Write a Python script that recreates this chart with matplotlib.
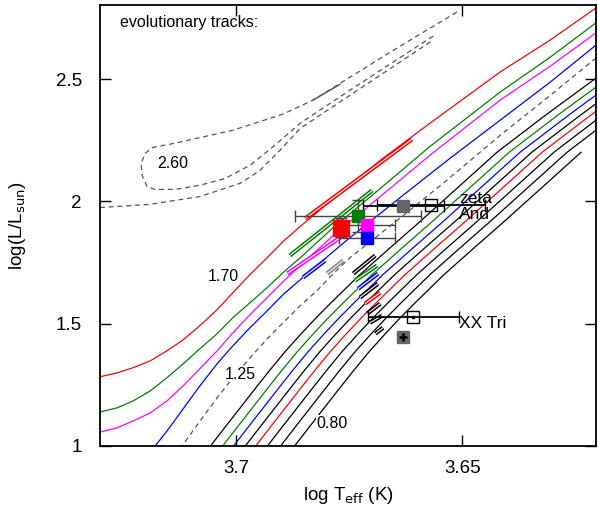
import matplotlib
matplotlib.use("Agg")
import matplotlib.pyplot as plt

plt.rcParams['font.family'] = ['Liberation Sans', 'DejaVu Sans']

# ---------------- data (log Teff, log L) ----------------
# 2.60 Msun track (dashed): RGB ascent, then descent + blue loop + AGB
t260_a_T = [3.7301, 3.7190, 3.7080, 3.6991, 3.6947, 3.6903, 3.6858, 3.6748, 3.6564]
t260_a_L = [1.975, 1.988, 2.020, 2.074, 2.127, 2.209, 2.299, 2.434, 2.660]
t260_b_T = [3.6564, 3.6748, 3.6858, 3.6914, 3.6969, 3.7024, 3.7080, 3.7135, 3.7179, 3.7197,
            3.7208, 3.7210, 3.7201, 3.7184, 3.7135, 3.7007, 3.6896, 3.6830, 3.6748, 3.6637, 3.6511]
t260_b_L = [2.676, 2.455, 2.320, 2.230, 2.148, 2.094, 2.066, 2.049, 2.049, 2.061,
            2.107, 2.156, 2.197, 2.221, 2.238, 2.291, 2.357, 2.414, 2.508, 2.635, 2.775]
t260_seg_T = [3.6830, 3.6770]
t260_seg_L = [2.414, 2.479]

# upper tracks
red170_T = [3.7301, 3.7263, 3.7228, 3.7190, 3.7153, 3.7117, 3.7080, 3.7042, 3.7007, 3.6969,
            3.6931, 3.6896, 3.6858, 3.6770, 3.6681, 3.6571, 3.6416, 3.6305, 3.6204]
red170_L = [1.283, 1.299, 1.320, 1.348, 1.389, 1.434, 1.492, 1.557, 1.627, 1.701,
            1.770, 1.836, 1.898, 2.033, 2.168, 2.320, 2.529, 2.660, 2.791]
grn160_T = [3.7301, 3.7263, 3.7228, 3.7190, 3.7153, 3.7117, 3.7080, 3.7042, 3.7007, 3.6969,
            3.6931, 3.6896, 3.6858, 3.6785, 3.6681, 3.6571, 3.6416, 3.6305, 3.6204]
grn160_L = [1.139, 1.156, 1.184, 1.225, 1.279, 1.336, 1.398, 1.459, 1.525, 1.586,
            1.648, 1.709, 1.770, 1.893, 2.053, 2.225, 2.447, 2.590, 2.730]
mag150_T = [3.7301, 3.7263, 3.7228, 3.7190, 3.7153, 3.7117, 3.7080, 3.7042, 3.7007, 3.6969,
            3.6931, 3.6896, 3.6858, 3.6785, 3.6681, 3.6571, 3.6416, 3.6305, 3.6204]
mag150_L = [1.057, 1.074, 1.102, 1.135, 1.184, 1.246, 1.316, 1.389, 1.463, 1.537,
            1.607, 1.672, 1.738, 1.861, 2.020, 2.189, 2.414, 2.553, 2.689]
blu140_T = [3.7184, 3.7153, 3.7117, 3.7080, 3.7042, 3.7007, 3.6969, 3.6931, 3.6896,
            3.6858, 3.6821, 3.6785, 3.6748, 3.6637, 3.6527, 3.6416, 3.6305, 3.6204]
blu140_L = [0.988, 1.061, 1.152, 1.246, 1.336, 1.410, 1.484, 1.553, 1.619,
            1.680, 1.738, 1.795, 1.852, 2.016, 2.176, 2.332, 2.488, 2.639]
dsh130_T = [3.7124, 3.7080, 3.7042, 3.7007, 3.6969, 3.6931, 3.6896, 3.6858, 3.6821,
            3.6785, 3.6748, 3.6644, 3.6542, 3.6416, 3.6305, 3.6204]
dsh130_L = [0.988, 1.102, 1.197, 1.279, 1.361, 1.439, 1.504, 1.574, 1.635,
            1.705, 1.770, 1.922, 2.074, 2.270, 2.434, 2.586]

# lower tracks (1.25 ... 0.80), common luminosity grid
low_L = [0.992, 1.078, 1.156, 1.234, 1.311, 1.385, 1.455, 1.520, 1.582, 1.701,
         1.811, 1.918, 2.066, 2.201, 2.352, 2.504]
low_T = [
    [3.7060, 3.7024, 3.6991, 3.6958, 3.6925, 3.6892, 3.6858, 3.6825, 3.6792, 3.6726, 3.6659, 3.6593, 3.6504, 3.6423, 3.6316, 3.6204],
    [3.7033, 3.6997, 3.6964, 3.6931, 3.6898, 3.6865, 3.6831, 3.6798, 3.6765, 3.6699, 3.6632, 3.6566, 3.6477, 3.6396, 3.6289, 3.6177],
    [3.7009, 3.6973, 3.6940, 3.6907, 3.6874, 3.6841, 3.6807, 3.6774, 3.6741, 3.6675, 3.6608, 3.6542, 3.6453, 3.6372, 3.6265, 3.6153],
    [3.6983, 3.6947, 3.6914, 3.6881, 3.6848, 3.6815, 3.6781, 3.6748, 3.6715, 3.6649, 3.6582, 3.6516, 3.6427, 3.6346, 3.6239, 3.6127],
    [3.6960, 3.6924, 3.6891, 3.6858, 3.6825, 3.6792, 3.6758, 3.6725, 3.6692, 3.6626, 3.6559, 3.6493, 3.6404, 3.6323, 3.6216, 3.6104],
    [3.6934, 3.6898, 3.6865, 3.6832, 3.6799, 3.6766, 3.6732, 3.6699, 3.6666, 3.6600, 3.6533, 3.6467, 3.6378, 3.6297, 3.6190, 3.6078],
    [3.6905, 3.6869, 3.6836, 3.6803, 3.6770, 3.6737, 3.6703, 3.6670, 3.6637, 3.6571, 3.6504, 3.6438, 3.6349, 3.6268, 3.6161, 3.6049],
    [3.6874, 3.6838, 3.6805, 3.6772, 3.6739, 3.6706, 3.6672, 3.6639, 3.6606, 3.6540, 3.6473, 3.6407, 3.6318, 3.6237],
]
low_colors = ['black', 'green', 'blue', 'black', 'red', 'black', 'black', 'black']

# He-burning clump segments: (T start, L start, T end, L end)
clump_T0 = [3.6847, 3.6881, 3.6887, 3.6852, 3.6799, 3.6741, 3.6737, 3.6730, 3.6726, 3.6715, 3.6710, 3.6704, 3.6692]
clump_L0 = [1.930, 1.779, 1.705, 1.689, 1.705, 1.705, 1.676, 1.643, 1.607, 1.582, 1.541, 1.504, 1.459]
clump_T1 = [3.6611, 3.6699, 3.6770, 3.6803, 3.6763, 3.6692, 3.6688, 3.6686, 3.6686, 3.6681, 3.6681, 3.6677, 3.6675]
clump_L1 = [2.254, 2.045, 1.852, 1.758, 1.758, 1.779, 1.738, 1.705, 1.664, 1.627, 1.582, 1.533, 1.484]
clump_colors = ['red', 'green', 'magenta', 'blue', 'gray', 'black', 'green', 'blue',
                'black', 'red', 'black', 'black', 'black']

# observed stars
zeta_T = [3.6630, 3.6569]
zeta_L = [1.980, 1.984]
zeta_xerr = [0.0089, 0.0119]
fit_T = [3.6768, 3.6730, 3.6710, 3.6710]
fit_L = [1.893, 1.939, 1.902, 1.852]
fit_xerr = [0.0, 0.0139, 0.0062, 0.0062]
fit_yerr = [0.04, 0.065, 0.0, 0.0]
fit_colors = ['red', 'green', 'magenta', 'blue']
fit_sizes = [11, 8, 8.5, 8.5]
xx_T = [3.6630, 3.6608]
xx_L = [1.447, 1.529]
xx_xerr = [0.0009, 0.0101]
xx_yerr = [0.016, 0.0]

# ---------------- figure ----------------
fig = plt.figure(figsize=(5.98, 5.13), dpi=100)
ax = fig.add_axes([100/598, 1-446/513, 496/598, 441/513])

lw = 0.9
dash = (0, (4, 3))
ax.plot(t260_a_T, t260_a_L, color='#555555', ls=dash, lw=lw)
ax.plot(t260_b_T, t260_b_L, color='#555555', ls=dash, lw=lw)
ax.plot(t260_seg_T, t260_seg_L, color='#555555', lw=1.0)
ax.plot(red170_T, red170_L, color='red', lw=lw)
ax.plot(grn160_T, grn160_L, color='green', lw=lw)
ax.plot(mag150_T, mag150_L, color='magenta', lw=lw)
ax.plot(blu140_T, blu140_L, color='blue', lw=lw)
ax.plot(dsh130_T, dsh130_L, color='#555555', ls=dash, lw=lw)
for T, c in zip(low_T, low_colors):
    ax.plot(T, low_L[:len(T)], color=c, lw=lw)

for t0, l0, t1, l1, c in zip(clump_T0, clump_L0, clump_T1, clump_L1, clump_colors):
    ax.plot([t0, t1], [l0, l1], color=c, lw=3.0, solid_capstyle='butt')
    ax.plot([t0, t1], [l0, l1], color='white', lw=0.8, solid_capstyle='butt')

# error bars
ax.errorbar(zeta_T, zeta_L, xerr=zeta_xerr, fmt='none', ecolor='black', elinewidth=1.3, capsize=4)
ax.errorbar(fit_T, fit_L, xerr=fit_xerr, yerr=fit_yerr, fmt='none', ecolor='#444444', elinewidth=1.0, capsize=4)
ax.errorbar(xx_T[1:], xx_L[1:], xerr=xx_xerr[1:], fmt='none', ecolor='black', elinewidth=1.3, capsize=4)

# markers
ax.plot(zeta_T[0], zeta_L[0], 's', ms=9, color='#666666', mec='#666666')
ax.plot(zeta_T[1], zeta_L[1], 's', ms=9, mfc='none', mec='black', mew=1.0)
for T, L, c, s in zip(fit_T, fit_L, fit_colors, fit_sizes):
    ax.plot(T, L, 's', ms=s, color=c, mec=c)
ax.plot(xx_T[1], xx_L[1], 's', ms=9, mfc='none', mec='black', mew=1.0)
ax.plot(xx_T[1], xx_L[1], 's', ms=2, color='black')
ax.plot(xx_T[0], xx_L[0], 's', ms=9, color='#666666', mec='#666666')
ax.errorbar(xx_T[:1], xx_L[:1], xerr=xx_xerr[:1], yerr=xx_yerr[:1], fmt='none',
            ecolor='black', elinewidth=1.8, capsize=0, zorder=3)

# labels
bb = dict(facecolor='white', edgecolor='none', pad=0.5)
ax.text(3.7256, 2.73, 'evolutionary tracks:', fontsize=11.5, ha='left', va='center')
ax.text(3.7140, 2.155, '2.60', fontsize=11.5, ha='center', va='center', bbox=bb)
ax.text(3.7028, 1.695, '1.70', fontsize=11.5, ha='center', va='center', bbox=bb)
ax.text(3.6990, 1.293, '1.25', fontsize=11.5, ha='center', va='center', bbox=bb)
ax.text(3.6787, 1.093, '0.80', fontsize=11.5, ha='center', va='center', bbox=bb)
ax.text(3.6506, 2.01, 'zeta', fontsize=12.5, ha='left', va='center')
ax.text(3.6506, 1.945, 'And', fontsize=12.5, ha='left', va='center')
ax.text(3.6506, 1.500, 'XX Tri', fontsize=12.5, ha='left', va='center')

ax.set_xlim(3.7301, 3.6204)
ax.set_ylim(1.0, 2.803)
ax.set_xticks([3.7, 3.65])
ax.set_xticklabels(['3.7', '3.65'])
ax.set_yticks([1, 1.5, 2, 2.5])
ax.set_yticklabels(['1', '1.5', '2', '2.5'])
ax.tick_params(direction='in', length=8, width=1.0, top=True, right=True, labelsize=13.5)
ax.tick_params(axis='x', pad=10)
ax.tick_params(axis='y', pad=13)
for s in ax.spines.values():
    s.set_linewidth(1.3)
ax.set_xlabel(r'log T$_{\rm eff}$ (K)', fontsize=13.5, labelpad=6)
ax.set_ylabel(r'log(L/L$_{\rm sun}$)', fontsize=13.5, labelpad=20)

fig.savefig('out.png', dpi=100)
